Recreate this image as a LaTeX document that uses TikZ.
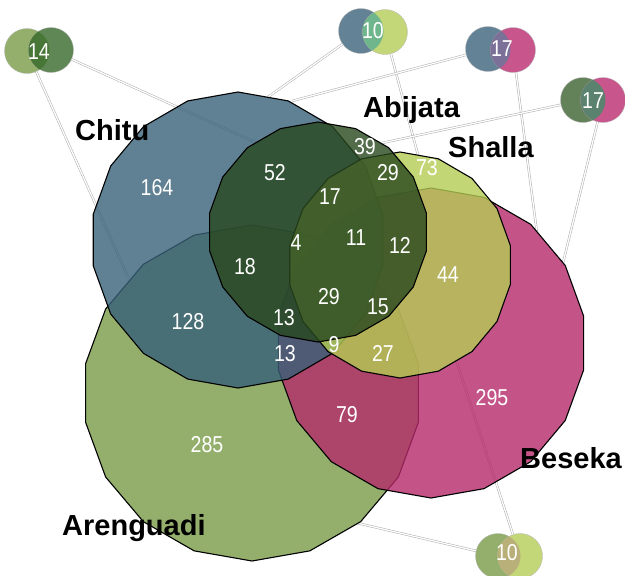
\documentclass[tikz,border=0pt]{standalone}
\usepackage{fontspec}
\setmainfont{Liberation Sans}
\newfontfamily\numfont[FakeStretch=0.85]{Liberation Sans}
\definecolor{cChitu}{RGB}{56,96,121}
\definecolor{cAren}{RGB}{120,155,70}
\definecolor{cBes}{RGB}{181,41,106}
\definecolor{cShal}{RGB}{180,204,84}
\definecolor{cAbij}{RGB}{40,72,30}
\definecolor{sAren}{RGB}{147,175,107}
\definecolor{sAbij}{RGB}{95,135,85}
\definecolor{sAbijB}{RGB}{100,130,90}
\definecolor{sChitu}{RGB}{100,130,150}
\definecolor{sShal}{RGB}{195,215,120}
\definecolor{sBes}{RGB}{200,85,140}
\definecolor{oA}{RGB}{72,118,54}
\definecolor{oB}{RGB}{112,182,140}
\definecolor{oC}{RGB}{122,112,152}
\definecolor{oD}{RGB}{90,130,110}
\definecolor{oE}{RGB}{185,175,120}
\begin{document}
\begin{tikzpicture}[x=1pt,y=-1pt,
  setpoly/.style={draw=black, line width=1.1pt, line join=round, fill opacity=0.8},
  pairdisk/.style={circle, minimum size=45pt, inner sep=0pt, draw=gray!60, line width=0.3pt},
  link/.style={draw=gray!65, line width=0.5pt, double=white, double distance=1.3pt},
  num/.style={text=white, font=\numfont\fontsize{23}{23}\selectfont, inner sep=0pt},
  setname/.style={font=\bfseries\fontsize{29}{29}\selectfont, anchor=base west, inner sep=0pt}]
\useasboundingbox (0,0) rectangle (625,576);

% small pair diagrams
\node[pairdisk, fill=sAren] (p1a) at (27,51) {};
\node[pairdisk, fill=sAbij] (p1b) at (51,50) {};
\begin{scope}\clip (p1a.center) circle (22.5pt); \fill[oA] (p1b.center) circle (22.5pt);\end{scope}
\node[num] (l1) at (39,52) {14};

\node[pairdisk, fill=sChitu] (p2a) at (361,31) {};
\node[pairdisk, fill=sShal] (p2b) at (385,32) {};
\begin{scope}\clip (p2a.center) circle (22.5pt); \fill[oB] (p2b.center) circle (22.5pt);\end{scope}
\node[num] (l2) at (373,31) {10};

\node[pairdisk, fill=sChitu] (p3a) at (488,49) {};
\node[pairdisk, fill=sBes] (p3b) at (513,50) {};
\begin{scope}\clip (p3a.center) circle (22.5pt); \fill[oC] (p3b.center) circle (22.5pt);\end{scope}
\node[num] (l3) at (502,49) {17};

\node[pairdisk, fill=sAbijB] (p4a) at (583,100) {};
\node[pairdisk, fill=sBes] (p4b) at (603,100) {};
\begin{scope}\clip (p4a.center) circle (22.5pt); \fill[oD] (p4b.center) circle (22.5pt);\end{scope}
\node[num] (l4) at (593,101) {17};

\node[pairdisk, fill=sAren] (p5a) at (498,556) {};
\node[pairdisk, fill=sShal] (p5b) at (520,556) {};
\begin{scope}\clip (p5a.center) circle (22.5pt); \fill[oE] (p5b.center) circle (22.5pt);\end{scope}
\node[num] (l5) at (507,553) {10};

% connector end points on the set outlines
\coordinate (e1a) at (128,277);
\coordinate (e1b) at (257,143);
\coordinate (e2a) at (268,97);
\coordinate (e2b) at (418,155);
\coordinate (e3a) at (292,101);
\coordinate (e3b) at (537,233);
\coordinate (e4a) at (382,143);
\coordinate (e4b) at (562,267);
\coordinate (e5a) at (357,523);
\coordinate (e5b) at (457,363);

\draw[link] (p1a) -- (e1a);
\draw[link] (p1b) -- (e1b);
\draw[link] (p2a) -- (e2a);
\draw[link] (p2b) -- (e2b);
\draw[link] (p3a) -- (e3a);
\draw[link] (p3b) -- (e3b);
\draw[link] (p4a) -- (e4a);
\draw[link] (p4b) -- (e4b);
\draw[link] (p5a) -- (e5a);
\draw[link] (p5b) -- (e5b);

% the five sets
\draw[setpoly, fill=cAren] plot[samples=19, domain=90:450, variable=\t] ({252+169*cos(\t)},{393+168*sin(\t)}) -- cycle;
\draw[setpoly, fill=cBes] plot[samples=19, domain=90:450, variable=\t] ({431+155*cos(\t)},{343+155*sin(\t)}) -- cycle;
\draw[setpoly, fill=cChitu] plot[samples=19, domain=90:450, variable=\t] ({238+147*cos(\t)},{240+148*sin(\t)}) -- cycle;
\draw[setpoly, fill=cShal] plot[samples=19, domain=90:450, variable=\t] ({400+112*cos(\t)},{265+113*sin(\t)}) -- cycle;
\draw[setpoly, fill=cAbij] plot[samples=19, domain=90:450, variable=\t] ({318+110*cos(\t)},{232+110*sin(\t)}) -- cycle;

% set names
\node[setname] (nChitu) at (75,140) {Chitu};
\node[setname] (nAbij) at (363,117) {Abijata};
\node[setname] (nShal) at (448,157) {Shalla};
\node[setname] (nBes) at (520,468) {Beseka};
\node[setname] (nAren) at (62,535) {Arenguadi};

% region counts
\node[num] (r1) at (157,188) {164};
\node[num] (r2) at (275,173) {52};
\node[num] (r3) at (245,267) {18};
\node[num] (r4) at (188,322) {128};
\node[num] (r5) at (284,318) {13};
\node[num] (r6) at (285,354) {13};
\node[num] (r7) at (365,147) {39};
\node[num] (r8) at (388,173) {29};
\node[num] (r9) at (427,168) {73};
\node[num] (r10) at (330,197) {17};
\node[num] (r11) at (296,243) {4};
\node[num] (r12) at (356,238) {11};
\node[num] (r13) at (400,245) {12};
\node[num] (r14) at (329,297) {29};
\node[num] (r15) at (378,307) {15};
\node[num] (r16) at (334,345) {9};
\node[num] (r17) at (383,353) {27};
\node[num] (r18) at (448,275) {44};
\node[num] (r19) at (492,398) {295};
\node[num] (r20) at (347,415) {79};
\node[num] (r21) at (207,445) {285};
\end{tikzpicture}
\end{document}
